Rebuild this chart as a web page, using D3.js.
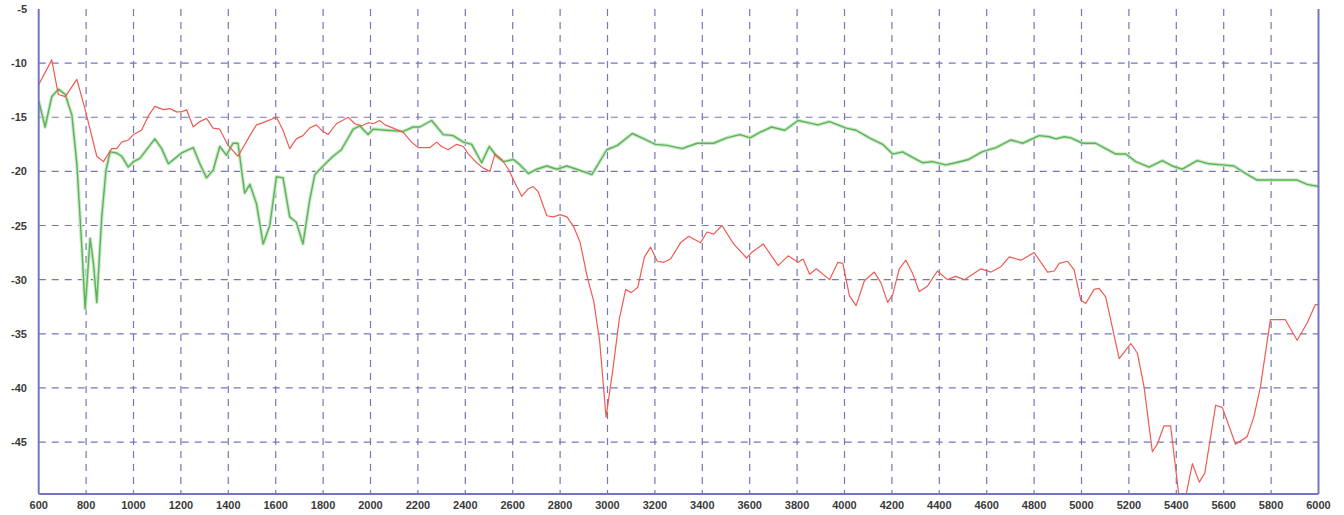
<!DOCTYPE html>
<html>
<head>
<meta charset="utf-8">
<script src="https://cdn.jsdelivr.net/npm/d3@7/dist/d3.min.js"></script>
<style>
  html, body { margin: 0; padding: 0; background: #fff; }
  svg { display: block; }
  .tick-label { font-family: "Liberation Sans", Arial, sans-serif; font-size: 11px; font-weight: bold; fill: #3a3a3a; }
</style>
</head>
<body>
<svg id="chart"></svg>
<script>
// frequency (Hz) / level (dB)
const redFreq = [600, 655, 683, 712, 761, 796, 845, 873, 908, 929, 950, 978, 1000, 1034, 1062, 1090, 1126, 1154, 1182, 1203,
  1224, 1252, 1280, 1308, 1336, 1364, 1399, 1441, 1491, 1519, 1547, 1603, 1631, 1659, 1687, 1715, 1743, 1771, 1799, 1821,
  1856, 1906, 1934, 1962, 1990, 2011, 2039, 2061, 2096, 2138, 2173, 2201, 2251, 2279, 2300, 2328, 2363, 2392, 2413, 2448,
  2476, 2504, 2525, 2554, 2582, 2610, 2638, 2666, 2687, 2708, 2744, 2772, 2800, 2829, 2857, 2885, 2913, 2942, 2967, 2994,
  3022, 3050, 3077, 3100, 3128, 3156, 3182, 3210, 3238, 3266, 3308, 3343, 3392, 3420, 3448, 3483, 3532, 3587, 3608, 3657,
  3720, 3762, 3804, 3825, 3853, 3881, 3937, 3972, 3993, 4021, 4049, 4084, 4126, 4154, 4182, 4203, 4231, 4259, 4287, 4315,
  4350, 4392, 4434, 4469, 4506, 4541, 4576, 4618, 4660, 4695, 4745, 4800, 4857, 4885, 4906, 4941, 4969, 4997, 5018, 5053,
  5074, 5102, 5159, 5208, 5236, 5264, 5299, 5320, 5348, 5376, 5411, 5440, 5468, 5497, 5520, 5566, 5594, 5650, 5699, 5727,
  5755, 5797, 5860, 5910, 5952, 5987, 6000];
const redDb = [-12.0, -9.7, -12.9, -13.1, -11.5, -14.3, -18.6, -19.1, -17.9, -17.9, -17.3, -17.1, -16.6, -16.2, -14.9, -14.0, -14.3, -14.2, -14.5, -14.5,
  -14.3, -15.9, -15.4, -15.1, -16.0, -16.1, -17.6, -18.6, -16.7, -15.7, -15.5, -15.0, -16.2, -17.9, -17.0, -16.7, -16.0, -15.7, -16.3, -16.6,
  -15.6, -15.0, -15.6, -15.8, -15.5, -15.6, -15.3, -15.7, -16.0, -16.4, -17.3, -17.8, -17.8, -17.3, -17.7, -18.0, -17.5, -17.7, -18.4, -19.2,
  -19.7, -20.0, -18.4, -18.9, -19.8, -21.1, -22.3, -21.6, -21.4, -21.9, -24.1, -24.2, -24.0, -24.2, -25.1, -26.6, -29.6, -32.0, -35.7, -42.7,
  -38.4, -33.6, -30.9, -31.2, -30.7, -27.9, -27.0, -28.3, -28.4, -28.1, -26.6, -26.0, -26.6, -25.6, -25.8, -25.0, -26.7, -28.0, -27.5, -26.7,
  -28.7, -27.8, -28.4, -28.1, -29.5, -29.0, -30.0, -28.4, -28.5, -31.5, -32.4, -30.1, -29.3, -30.3, -32.1, -31.4, -29.0, -28.2, -29.4, -31.1,
  -30.6, -29.2, -30.0, -29.7, -30.0, -29.5, -29.0, -29.3, -28.8, -27.9, -28.2, -27.5, -29.3, -29.2, -28.5, -28.3, -29.1, -31.9, -32.2, -30.9,
  -30.8, -31.6, -37.3, -35.9, -36.8, -39.9, -45.9, -45.2, -43.5, -43.5, -50.0, -50.0, -47.0, -48.7, -47.9, -41.6, -41.8, -45.2, -44.5, -42.7,
  -39.9, -33.7, -33.7, -35.6, -34.0, -32.3, -32.3];

const greenFreq = [600, 627, 655, 683, 712, 740, 761, 782, 796, 817, 831, 845, 866, 884, 901, 929, 950, 978, 1000, 1027,
  1048, 1090, 1119, 1147, 1175, 1203, 1252, 1280, 1308, 1336, 1364, 1392, 1420, 1441, 1469, 1491, 1519, 1547, 1575, 1603,
  1631, 1659, 1687, 1715, 1743, 1765, 1800, 1842, 1877, 1927, 1955, 1990, 2011, 2068, 2138, 2180, 2208, 2258, 2307, 2349,
  2392, 2427, 2469, 2501, 2532, 2561, 2603, 2631, 2666, 2701, 2744, 2786, 2828, 2870, 2934, 2997, 3042, 3105, 3154, 3203,
  3252, 3315, 3378, 3448, 3503, 3559, 3601, 3643, 3692, 3748, 3804, 3846, 3888, 3937, 4007, 4049, 4105, 4161, 4203, 4245,
  4287, 4329, 4371, 4427, 4469, 4524, 4580, 4639, 4702, 4752, 4821, 4864, 4892, 4927, 4955, 5004, 5060, 5102, 5145, 5187,
  5229, 5285, 5341, 5383, 5425, 5488, 5537, 5594, 5643, 5693, 5741, 5797, 5846, 5910, 5952, 6000];
const greenDb = [-13.5, -15.9, -13.1, -12.4, -12.9, -14.8, -19.3, -27.0, -32.7, -26.2, -28.5, -32.1, -24.2, -19.9, -18.2, -18.3, -18.6, -19.6, -19.1, -18.8,
  -18.2, -17.0, -17.9, -19.3, -18.8, -18.3, -17.8, -19.3, -20.6, -19.9, -17.7, -18.5, -17.4, -17.4, -22.0, -21.2, -23.0, -26.7, -25.0, -20.5,
  -20.6, -24.2, -24.7, -26.7, -22.7, -20.3, -19.5, -18.6, -18.0, -16.1, -15.8, -16.6, -16.1, -16.2, -16.3, -15.9, -15.9, -15.3, -16.6, -16.7,
  -17.3, -17.5, -19.2, -17.7, -18.6, -19.1, -18.9, -19.4, -20.2, -19.8, -19.5, -19.8, -19.5, -19.8, -20.3, -18.0, -17.6, -16.5, -17.0, -17.5,
  -17.6, -17.9, -17.4, -17.4, -16.9, -16.6, -16.9, -16.4, -15.9, -16.2, -15.3, -15.5, -15.7, -15.4, -16.0, -16.2, -16.9, -17.5, -18.4, -18.2,
  -18.7, -19.2, -19.1, -19.4, -19.2, -18.9, -18.2, -17.8, -17.1, -17.4, -16.7, -16.8, -17.0, -16.8, -16.9, -17.4, -17.4, -17.9, -18.4, -18.4,
  -19.1, -19.6, -19.0, -19.5, -19.8, -19.0, -19.3, -19.4, -19.5, -20.2, -20.8, -20.8, -20.8, -20.8, -21.2, -21.4];

const xTicks = d3.range(600, 6001, 200);
const yTicks = [-5, -10, -15, -20, -25, -30, -35, -40, -45];

const width = 1344, height = 515;
const plotArea = { left: 38.7, right: 1318.5, top: 9, bottom: 494 };

const svg = d3.select('#chart').attr('width', width).attr('height', height);

const x = d3.scaleLinear().domain([600, 6000]).range([plotArea.left, plotArea.right]);
const y = d3.scaleLinear().domain([-49.8, -5]).range([plotArea.bottom, plotArea.top]);

const gridColor = '#7676b6';

// vertical grid
svg.append('g')
    .selectAll('line')
    .data(xTicks.filter(d => d > 600 && d < 6000))
    .enter().append('line')
    .attr('x1', d => x(d)).attr('x2', d => x(d))
    .attr('y1', plotArea.top).attr('y2', plotArea.bottom)
    .attr('stroke', gridColor)
    .attr('stroke-width', 1.2)
    .attr('stroke-dasharray', '7,6');

// horizontal grid
svg.append('g')
    .selectAll('line')
    .data(yTicks.filter(d => d < -5))
    .enter().append('line')
    .attr('x1', plotArea.left).attr('x2', plotArea.right)
    .attr('y1', d => y(d)).attr('y2', d => y(d))
    .attr('stroke', gridColor)
    .attr('stroke-width', 1.2)
    .attr('stroke-dasharray', '7,6');

svg.append('clipPath').attr('id', 'plot-clip')
    .append('rect')
    .attr('x', plotArea.left).attr('y', plotArea.top)
    .attr('width', plotArea.right - plotArea.left).attr('height', plotArea.bottom - plotArea.top);

const line = d3.line()
    .x(d => x(d[0]))
    .y(d => y(d[1]));

const greenData = greenFreq.map((f, i) => [f, greenDb[i]]);
const redData = redFreq.map((f, i) => [f, redDb[i]]);

const plot = svg.append('g').attr('clip-path', 'url(#plot-clip)');

// soft halo under the green trace
plot.append('path')
    .datum(greenData)
    .attr('d', line)
    .attr('fill', 'none')
    .attr('stroke', '#cce8c6')
    .attr('stroke-width', 3.6)
    .attr('stroke-linejoin', 'round');

plot.append('path')
    .datum(greenData)
    .attr('d', line)
    .attr('fill', 'none')
    .attr('stroke', '#5bb35b')
    .attr('stroke-width', 1.4)
    .attr('stroke-linejoin', 'round');

plot.append('path')
    .datum(redData)
    .attr('d', line)
    .attr('fill', 'none')
    .attr('stroke', '#ef5b52')
    .attr('stroke-width', 1.2)
    .attr('stroke-linejoin', 'round');

// frame: left, bottom and right edges
const axisColor = '#7474c4';
svg.append('line')
    .attr('x1', plotArea.left).attr('x2', plotArea.left)
    .attr('y1', plotArea.top).attr('y2', plotArea.bottom)
    .attr('stroke', axisColor).attr('stroke-width', 2);
svg.append('line')
    .attr('x1', plotArea.right).attr('x2', plotArea.right)
    .attr('y1', plotArea.top).attr('y2', plotArea.bottom)
    .attr('stroke', axisColor).attr('stroke-width', 2);
svg.append('line')
    .attr('x1', plotArea.left).attr('x2', plotArea.right)
    .attr('y1', plotArea.bottom).attr('y2', plotArea.bottom)
    .attr('stroke', axisColor).attr('stroke-width', 2);

// tick labels
svg.append('g')
    .selectAll('text')
    .data(xTicks)
    .enter().append('text')
    .attr('class', 'tick-label')
    .attr('x', d => x(d))
    .attr('y', 509)
    .attr('text-anchor', 'middle')
    .text(d => d);

svg.append('g')
    .selectAll('text')
    .data(yTicks)
    .enter().append('text')
    .attr('class', 'tick-label')
    .attr('x', 27)
    .attr('y', d => y(d) + 4)
    .attr('text-anchor', 'end')
    .text(d => d);
</script>
</body>
</html>
